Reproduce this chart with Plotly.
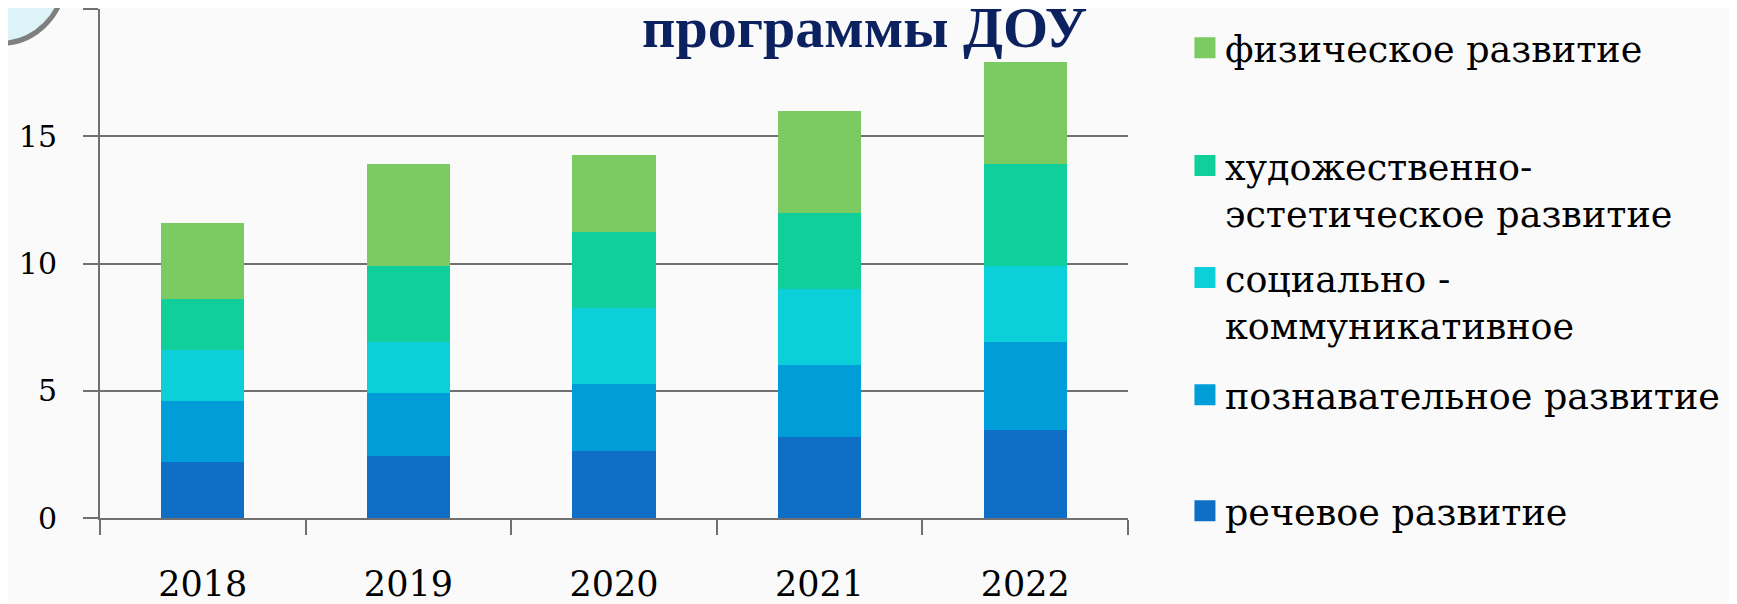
import plotly.graph_objects as go

years = ["2018", "2019", "2020", "2021", "2022"]

speech = [2.2, 2.45, 2.65, 3.2, 3.45]        # речевое развитие
cognitive = [2.4, 2.45, 2.6, 2.8, 3.45]      # познавательное развитие
social = [2.0, 2.0, 3.0, 3.0, 3.0]           # социально-коммуникативное
artistic = [2.0, 3.0, 3.0, 3.0, 4.0]         # художественно-эстетическое
physical = [3.0, 4.0, 3.0, 4.0, 4.0]         # физическое развитие

series_names = [
    "речевое развитие",
    "познавательное развитие",
    "социально -<br>коммуникативное",
    "художественно-<br>эстетическое развитие",
    "физическое развитие",
]
series_values = [speech, cognitive, social, artistic, physical]
colors = ["#0F6FC6", "#009DD9", "#0BD0D9", "#10CF9B", "#7CCA62"]
legend_ids = ["legend5", "legend4", "legend3", "legend2", "legend"]
legend_y = [0.0138, 0.2417, 0.426, 0.646, 0.9234]

y_ticks = [0, 5, 10, 15, 20]
y_ticktext = ["0", "5", "10", "15", ""]

SERIF = "DejaVu Serif"
TITLE_FONT = "Liberation Serif"
GRID = "#707070"

fig = go.Figure()
for name, vals, col in zip(series_names, series_values, colors):
    fig.add_trace(go.Bar(x=years, y=vals, name=name, marker_color=col,
                         marker_line_width=0, showlegend=False))

for name, col, lg in zip(series_names, colors, legend_ids):
    fig.add_trace(go.Scatter(x=[None], y=[None], mode="markers", name=name,
                             marker=dict(symbol="square", size=16, color=col,
                                         line=dict(color=col, width=5)),
                             legend=lg, showlegend=True))

legend_common = dict(x=1.0554, xanchor="left", yanchor="middle", valign="top",
                     bgcolor="rgba(0,0,0,0)", borderwidth=0,
                     font=dict(family=SERIF, size=36.5, color="#000000"))
layout_legends = {}
for lg, yv in zip(legend_ids, legend_y):
    layout_legends[lg] = dict(legend_common, y=yv)

# the page body adds an 8px offset, so the figure is 8px smaller than the window
fig.update_layout(
    width=1729, height=596,
    margin=dict(l=92, r=609, t=1, b=86, autoexpand=False),
    barmode="stack", bargap=0.596,
    paper_bgcolor="#FAFAFA", plot_bgcolor="#FAFAFA",
    font=dict(family=SERIF, color="#000000"),
    **layout_legends,
)

fig.update_yaxes(range=[0, 20], tickvals=y_ticks, ticktext=y_ticktext,
                 showgrid=True, gridcolor=GRID, gridwidth=2,
                 showline=True, linecolor=GRID, linewidth=2,
                 ticks="outside", ticklen=15, tickwidth=2, tickcolor=GRID,
                 ticklabelstandoff=20, zeroline=False, automargin=False,
                 tickfont=dict(family=SERIF, size=30, color="#000000"))
fig.update_xaxes(showline=True, linecolor=GRID, linewidth=2,
                 ticks="outside", ticklen=15, tickwidth=2, tickcolor=GRID,
                 tickson="boundaries", showgrid=False, automargin=False,
                 ticklabelstandoff=34,
                 tickfont=dict(family=SERIF, size=35, color="#000000"))

fig.add_annotation(text="<b>программы ДОУ</b>", xref="paper", yref="paper",
                   x=0.7437, y=0.964, xanchor="center", yanchor="middle",
                   showarrow=False,
                   font=dict(family=TITLE_FONT, size=58, color="#0C215F"))

fig.add_shape(type="circle", xref="paper", yref="paper",
              x0=-0.1606, x1=-0.0350, y0=0.9322, y1=1.1857,
              line=dict(color="#7F7F7F", width=5), fillcolor="#DCF3F8",
              layer="above")

fig.write_html("out.html")
